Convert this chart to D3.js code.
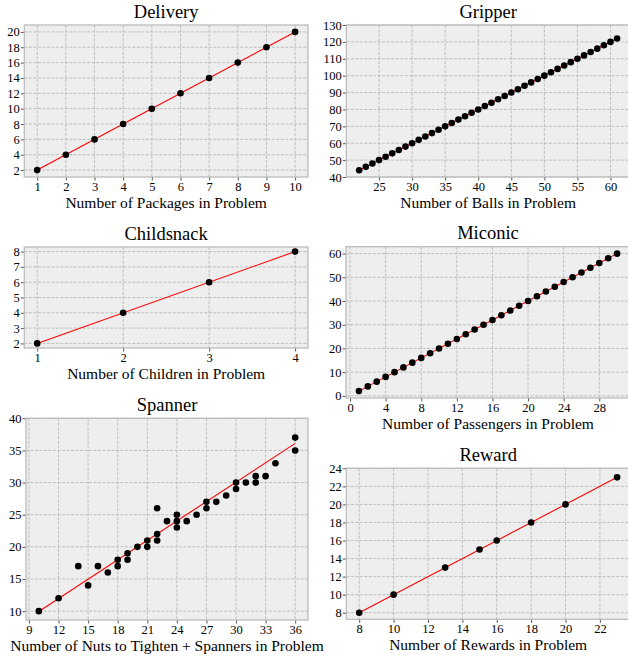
<!DOCTYPE html>
<html>
<head>
<meta charset="utf-8">
<script src="https://cdn.jsdelivr.net/npm/d3@7"></script>
<style>
  body { margin: 0; background: #fff; }
  svg { display: block; font-family: "Liberation Serif", "Times New Roman", serif; }
</style>
</head>
<body>
<svg id="chart" width="628" height="658"></svg>
<script>
// Delivery
const deliveryX = [1, 2, 3, 4, 5, 6, 7, 8, 9, 10];
const deliveryY = [2, 4, 6, 8, 10, 12, 14, 16, 18, 20];
const deliveryFit = [[1, 2], [10, 20]];
const deliveryXTicks = [1, 2, 3, 4, 5, 6, 7, 8, 9, 10];
const deliveryYTicks = [2, 4, 6, 8, 10, 12, 14, 16, 18, 20];

// Gripper
const gripperX = [22, 23, 24, 25, 26, 27, 28, 29, 30, 31, 32, 33, 34, 35, 36, 37, 38, 39, 40, 41,
                  42, 43, 44, 45, 46, 47, 48, 49, 50, 51, 52, 53, 54, 55, 56, 57, 58, 59, 60, 61];
const gripperY = [44, 46, 48, 50, 52, 54, 56, 58, 60, 62, 64, 66, 68, 70, 72, 74, 76, 78, 80, 82,
                  84, 86, 88, 90, 92, 94, 96, 98, 100, 102, 104, 106, 108, 110, 112, 114, 116, 118, 120, 122];
const gripperFit = [[22, 44], [61, 122]];
const gripperXTicks = [25, 30, 35, 40, 45, 50, 55, 60];
const gripperYTicks = [40, 50, 60, 70, 80, 90, 100, 110, 120, 130];

// Childsnack
const childsnackX = [1, 2, 3, 4];
const childsnackY = [2, 4, 6, 8];
const childsnackFit = [[1, 2], [4, 8]];
const childsnackXTicks = [1, 2, 3, 4];
const childsnackYTicks = [2, 3, 4, 5, 6, 7, 8];

// Miconic
const miconicX = [1, 2, 3, 4, 5, 6, 7, 8, 9, 10, 11, 12, 13, 14, 15,
                  16, 17, 18, 19, 20, 21, 22, 23, 24, 25, 26, 27, 28, 29, 30];
const miconicY = [2, 4, 6, 8, 10, 12, 14, 16, 18, 20, 22, 24, 26, 28, 30,
                  32, 34, 36, 38, 40, 42, 44, 46, 48, 50, 52, 54, 56, 58, 60];
const miconicFit = [[1, 2], [30, 60]];
const miconicXTicks = [0, 4, 8, 12, 16, 20, 24, 28];
const miconicYTicks = [0, 10, 20, 30, 40, 50, 60];

// Spanner
const spannerX = [10, 12, 14, 15, 16, 17, 18, 18, 19, 19, 20, 21, 21, 22, 22, 22, 23, 24,
                  24, 24, 25, 26, 27, 27, 28, 29, 30, 30, 31, 32, 32, 33, 34, 36, 36];
const spannerY = [10, 12, 17, 14, 17, 16, 17, 18, 18, 19, 20, 20, 21, 21, 22, 26, 24, 23,
                  24, 25, 24, 25, 26, 27, 27, 28, 29, 30, 30, 30, 31, 31, 33, 35, 37];
const spannerFit = [[10, 9.95], [36, 36.1]];
const spannerXTicks = [9, 12, 15, 18, 21, 24, 27, 30, 33, 36];
const spannerYTicks = [10, 15, 20, 25, 30, 35, 40];

// Reward
const rewardX = [8, 10, 13, 15, 16, 18, 20, 23];
const rewardY = [8, 10, 13, 15, 16, 18, 20, 23];
const rewardFit = [[8, 8], [23, 23]];
const rewardXTicks = [8, 10, 12, 14, 16, 18, 20, 22];
const rewardYTicks = [8, 10, 12, 14, 16, 18, 20, 22, 24];

const panels = [
  { title: 'Delivery', xlabel: 'Number of Packages in Problem',
    xs: deliveryX, ys: deliveryY, fit: deliveryFit, xt: deliveryXTicks, yt: deliveryYTicks,
    box: [24.3, 25, 308, 177], xd: [0.55, 10.45], yd: [1.1, 20.9] },
  { title: 'Gripper', xlabel: 'Number of Balls in Problem',
    xs: gripperX, ys: gripperY, fit: gripperFit, xt: gripperXTicks, yt: gripperYTicks,
    box: [346.3, 25, 630, 177], xd: [20.05, 62.95], yd: [40, 130] },
  { title: 'Childsnack', xlabel: 'Number of Children in Problem',
    xs: childsnackX, ys: childsnackY, fit: childsnackFit, xt: childsnackXTicks, yt: childsnackYTicks,
    box: [24.3, 247, 308, 348], xd: [0.85, 4.15], yd: [1.7, 8.3] },
  { title: 'Miconic', xlabel: 'Number of Passengers in Problem',
    xs: miconicX, ys: miconicY, fit: miconicFit, xt: miconicXTicks, yt: miconicYTicks,
    box: [346, 246.7, 630, 398], xd: [-0.45, 31.45], yd: [-0.9, 62.9] },
  { title: 'Spanner', xlabel: 'Number of Nuts to Tighten + Spanners in Problem',
    xs: spannerX, ys: spannerY, fit: spannerFit, xt: spannerXTicks, yt: spannerYTicks,
    box: [26, 418.3, 308, 620], xd: [8.7, 37.3], yd: [8.62, 40] },
  { title: 'Reward', xlabel: 'Number of Rewards in Problem',
    xs: rewardX, ys: rewardY, fit: rewardFit, xt: rewardXTicks, yt: rewardYTicks,
    box: [346.3, 468.3, 630, 619.3], xd: [7.25, 23.75], yd: [7.27, 24] }
];

const svg = d3.select('#chart');

panels.forEach((p) => {
  const [x0, y0, x1, y1] = p.box;
  const w = x1 - x0, h = y1 - y0;
  const x = d3.scaleLinear().domain(p.xd).range([0, w]);
  const y = d3.scaleLinear().domain(p.yd).range([h, 0]);

  const g = svg.append('g').attr('transform', `translate(${x0},${y0})`);

  g.append('rect').attr('width', w).attr('height', h).attr('fill', '#eeeeee');

  // dashed grid
  g.selectAll('.vgrid').data(p.xt).join('line')
    .attr('x1', d => x(d)).attr('x2', d => x(d))
    .attr('y1', 0).attr('y2', h)
    .attr('stroke', '#b2b2b2').attr('stroke-width', 0.8).attr('stroke-dasharray', '3,1.5');
  g.selectAll('.hgrid').data(p.yt).join('line')
    .attr('y1', d => y(d)).attr('y2', d => y(d))
    .attr('x1', 0).attr('x2', w)
    .attr('stroke', '#b2b2b2').attr('stroke-width', 0.8).attr('stroke-dasharray', '3,1.5');

  // axes
  const xAxis = g.append('g').attr('transform', `translate(0,${h})`)
    .call(d3.axisBottom(x).tickValues(p.xt).tickSize(3.5).tickPadding(1.5).tickFormat(d3.format('d')));
  const yAxis = g.append('g')
    .call(d3.axisLeft(y).tickValues(p.yt).tickSize(3.5).tickPadding(1).tickFormat(d3.format('d')));
  [xAxis, yAxis].forEach(a => {
    a.attr('font-family', null).attr('font-size', null);
    a.select('.domain').remove();
    a.selectAll('line').attr('stroke', '#555');
    a.selectAll('text').attr('fill', '#000').style('font-size', '12.5px');
  });

  g.append('rect').attr('width', w).attr('height', h)
    .attr('fill', 'none').attr('stroke', '#bcbcbc').attr('stroke-width', 1.3);

  // fit line
  g.append('path').datum(p.fit)
    .attr('d', d3.line().x(d => x(d[0])).y(d => y(d[1])))
    .attr('fill', 'none').attr('stroke', '#ff0000').attr('stroke-width', 1.1);

  // points
  g.selectAll('.pt').data(p.xs.map((v, i) => [v, p.ys[i]])).join('circle')
    .attr('cx', d => x(d[0])).attr('cy', d => y(d[1]))
    .attr('r', 3.3).attr('fill', '#000');

  // title and label
  svg.append('text')
    .attr('x', (x0 + x1) / 2).attr('y', y0 - 7.5)
    .attr('text-anchor', 'middle').style('font-size', '18.5px')
    .text(p.title);
  svg.append('text')
    .attr('x', (x0 + x1) / 2).attr('y', y1 + 31)
    .attr('text-anchor', 'middle').style('font-size', '15.5px')
    .text(p.xlabel);
});
</script>
</body>
</html>
